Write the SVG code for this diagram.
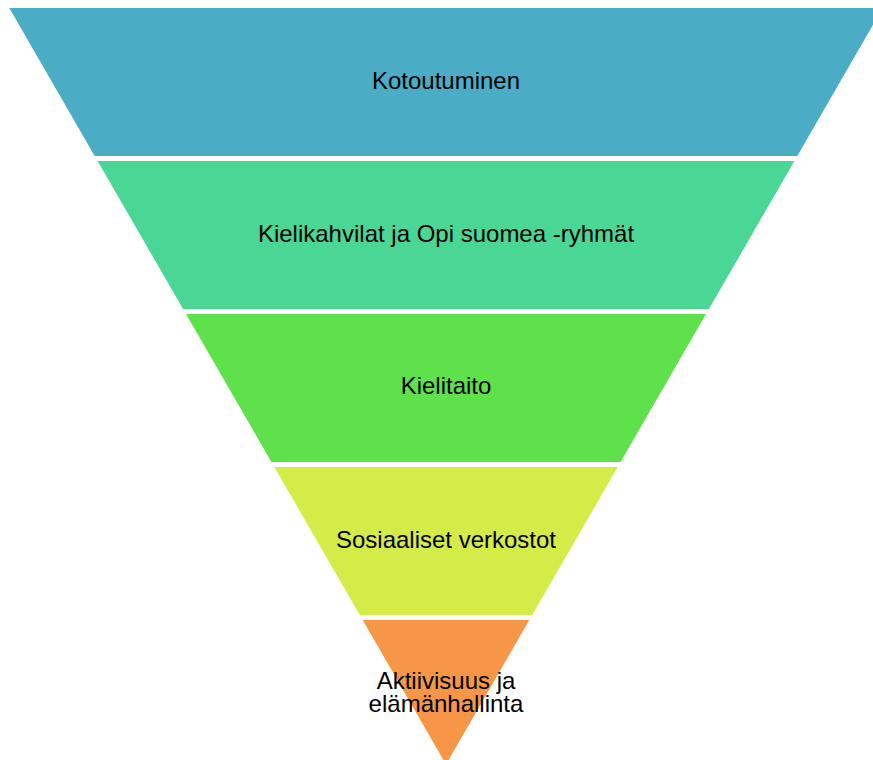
<svg xmlns="http://www.w3.org/2000/svg" width="873" height="760" viewBox="0 0 873 760">
<style>
.seg{stroke:none}
.lbl{font-family:"Liberation Sans",Arial,sans-serif;font-size:24px;fill:#000;text-anchor:middle}
</style>
<rect width="873" height="760" fill="#fff"/>
<g id="n1"><polygon class="seg" points="9.3,8 882.7,8 797.3,156 94.7,156" fill="#4BACC6"/><text class="lbl" x="446" y="88.5">Kotoutuminen</text></g>
<g id="n2"><polygon class="seg" points="97.6,161 794.4,161 708.9,309 183.1,309" fill="#4AD694"/><text class="lbl" x="446" y="242">Kielikahvilat ja Opi suomea -ryhmät</text></g>
<g id="n3"><polygon class="seg" points="186,314 706,314 620.6,462 271.4,462" fill="#5FE14B"/><text class="lbl" x="446" y="394">Kielitaito</text></g>
<g id="n4"><polygon class="seg" points="274.3,467 617.7,467 532.2,615 359.8,615" fill="#D4EC47"/><text class="lbl" x="446" y="548">Sosiaaliset verkostot</text></g>
<g id="n5"><polygon class="seg" points="362.7,620 529.3,620 446,764.4" fill="#F79646"/><text class="lbl" x="446" y="688.5">Aktiivisuus ja</text><text class="lbl" x="446" y="712">elämänhallinta</text></g>
<g id="connectors"/>
</svg>
